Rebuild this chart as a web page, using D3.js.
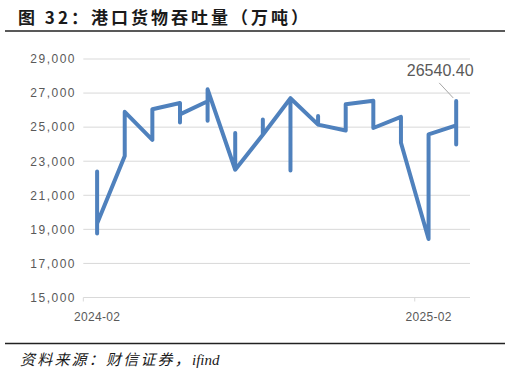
<!DOCTYPE html>
<html>
<head>
<meta charset="utf-8">
<script src="https://cdn.jsdelivr.net/npm/d3@7"></script>
<style>
  body { margin: 0; background: #fff; }
  svg { display: block; }
</style>
</head>
<body>
<div id="chart-area"></div>
<script>
// monthly slots on the date axis
const months = ["2024-02", "2024-03", "2024-04", "2024-05", "2024-06", "2024-07", "2024-08",
  "2024-09", "2024-10", "2024-11", "2024-12", "2025-01", "2025-02", "2025-03"];

// weekly points, each one sits in its month slot
const weekMonth = [
  "2024-02", "2024-02", "2024-02",
  "2024-03", "2024-03", "2024-03",
  "2024-04", "2024-04", "2024-04",
  "2024-05", "2024-05", "2024-05",
  "2024-06", "2024-06", "2024-06",
  "2024-07", "2024-07", "2024-07",
  "2024-08", "2024-08", "2024-08",
  "2024-09", "2024-09", "2024-09",
  "2024-10", "2024-10", "2024-10",
  "2024-11", "2024-11",
  "2024-12", "2024-12",
  "2025-01", "2025-01",
  "2025-02", "2025-02",
  "2025-03", "2025-03", "2025-03"
];
const weekValue = [
  22400, 18750, 19350,
  23300, 24700, 25900,
  24250, 25300, 26050,
  26420, 25270, 25750,
  26520, 25380, 27220,
  22500, 24660, 22500,
  24550, 25450, 24550,
  26700, 22450, 26700,
  25150, 25650, 25150,
  24800, 26350,
  26550, 24950,
  25600, 24080,
  18430, 24570,
  25100, 23980, 26540.40
];

const yTicks = [15000, 17000, 19000, 21000, 23000, 25000, 27000, 29000];
const xTickLabels = ["2024-02", "2025-02"];

const W = 511, H = 376;
const svg = d3.select("#chart-area").append("svg")
  .attr("width", W)
  .attr("height", H);

// ----------------- Title & source -----------------
svg.append("text")
  .attr("x", 18)
  .attr("y", 24)
  .attr("font-family", "Noto Sans CJK SC")
  .attr("font-weight", "bold")
  .attr("font-size", 17)
  .attr("fill", "#1a1a1a")
  .attr("textLength", 290)
  .attr("lengthAdjust", "spacing")
  .text("图 32：港口货物吞吐量（万吨）");

svg.append("line")
  .attr("x1", 5).attr("x2", 505)
  .attr("y1", 31).attr("y2", 31)
  .attr("stroke", "#222")
  .attr("stroke-width", 1.3);

svg.append("line")
  .attr("x1", 5).attr("x2", 505)
  .attr("y1", 343.5).attr("y2", 343.5)
  .attr("stroke", "#222")
  .attr("stroke-width", 1.3);

let source = svg.append("text")
  .attr("x", 20)
  .attr("y", 365)
  .attr("font-style", "italic")
  .attr("font-size", 15)
  .attr("fill", "#1a1a1a");
source.append("tspan")
  .attr("font-family", "Noto Sans CJK SC")
  .attr("letter-spacing", 2.2)
  .text("资料来源：财信证券，");
source.append("tspan")
  .attr("font-family", "Liberation Serif")
  .text("ifind");

// ----------------- Scales -----------------
const x = d3.scaleBand()
  .domain(months)
  .range([83.3, 470])
  .padding(0);

const y = d3.scaleLinear()
  .domain([15000, 29000])
  .range([297.5, 59]);

const px = (m) => x(m) + x.bandwidth() / 2;

// gridlines
svg.append("g")
  .selectAll("line")
  .data(yTicks)
  .join("line")
    .attr("x1", x.range()[0])
    .attr("x2", x.range()[1])
    .attr("y1", d => y(d))
    .attr("y2", d => y(d))
    .attr("stroke", "#d9d9d9")
    .attr("stroke-width", 1);

// Y ticks
svg.append("g")
  .selectAll("text")
  .data(yTicks)
  .join("text")
    .attr("x", 76)
    .attr("y", d => y(d))
    .attr("dy", "0.36em")
    .attr("text-anchor", "end")
    .attr("font-family", "Liberation Sans")
    .attr("font-size", 12)
    .attr("letter-spacing", 1.5)
    .attr("fill", "#595959")
    .text(d => d3.format(",")(d));

// X ticks (mark at slot start, label centred in slot)
const xTicks = svg.append("g");
xTicks.selectAll("line")
  .data(xTickLabels)
  .join("line")
    .attr("x1", d => x(d))
    .attr("x2", d => x(d))
    .attr("y1", y(15000))
    .attr("y2", y(15000) + 4)
    .attr("stroke", "#d9d9d9");
xTicks.selectAll("text")
  .data(xTickLabels)
  .join("text")
    .attr("x", d => px(d))
    .attr("y", 320.5)
    .attr("text-anchor", "middle")
    .attr("font-family", "Liberation Sans")
    .attr("font-size", 12)
    .attr("letter-spacing", 0.3)
    .attr("fill", "#595959")
    .text(d => d);

// ----------------- Line -----------------
const points = weekValue.map((v, i) => ({ month: weekMonth[i], value: v }));

const line = d3.line()
  .x(d => px(d.month))
  .y(d => y(d.value));

svg.append("path")
  .datum(points)
  .attr("d", line)
  .attr("fill", "none")
  .attr("stroke", "#4f81bd")
  .attr("stroke-width", 4)
  .attr("stroke-linejoin", "round")
  .attr("stroke-linecap", "round");

// ----------------- Last value label -----------------
const last = points[points.length - 1];
const lx = px(last.month), ly = y(last.value);

svg.append("line")
  .attr("x1", lx - 17).attr("y1", ly - 18)
  .attr("x2", lx - 3).attr("y2", ly - 3)
  .attr("stroke", "#a6a6a6")
  .attr("stroke-width", 1);

svg.append("text")
  .attr("x", lx - 16)
  .attr("y", ly - 25)
  .attr("text-anchor", "middle")
  .attr("font-family", "Liberation Sans")
  .attr("font-size", 16)
  .attr("fill", "#595959")
  .text(d3.format(".2f")(last.value));
</script>
</body>
</html>
